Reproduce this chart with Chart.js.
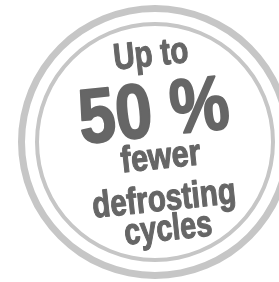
<!DOCTYPE html>
<html>
<head>
<meta charset="utf-8">
<script src="https://cdn.jsdelivr.net/npm/chart.js@4"></script>
<style>
  html, body { margin:0; padding:0; background:#fff; overflow:hidden; }
  #wrap { width:300px; height:282px; }
</style>
</head>
<body>
<div id="wrap"><canvas id="badge" width="300" height="282"></canvas></div>
<script>
// badge data
const ringNames  = ['outer ring', 'gap', 'inner ring'];
const ringValues = [100, 100, 100];
const badgeLines = ['Up to', '50 %', 'fewer', 'defrosting', 'cycles'];

// layout / style (kept apart from the data)
const RING_WEIGHTS = [7, 10, 4];
const RING_COLORS  = ['#c6c6c6', 'rgba(0,0,0,0)', '#c6c6c6'];
const TEXT_COLOR = '#666666';
const TEXT_ANGLE = -6;
const LINE_STYLE = [
  { size:37, x:5, y:-76, w:75 },
  { size:77, x:2, y:-6,  w:151 },
  { size:37, x:4, y:27,  w:80 },
  { size:37, x:3, y:69,  w:144 },
  { size:37, x:4, y:99,  w:88 }
];

const badgeText = {
  id:'badge-text',
  afterDraw(chart){
    const arc = chart.getDatasetMeta(0).data[0];
    if(!arc) return;
    const {ctx} = chart;
    ctx.save();
    ctx.translate(arc.x, arc.y);
    ctx.rotate(TEXT_ANGLE * Math.PI / 180);
    ctx.fillStyle = TEXT_COLOR;
    ctx.strokeStyle = TEXT_COLOR;
    ctx.lineJoin = 'round';
    ctx.textAlign = 'center';
    ctx.textBaseline = 'alphabetic';
    badgeLines.forEach((txt, i) => {
      const s = LINE_STYLE[i];
      ctx.font = `bold ${s.size}px "Liberation Sans", Arial, sans-serif`;
      const mw = ctx.measureText(txt).width || 1;
      ctx.save();
      ctx.translate(s.x, s.y);
      ctx.scale(s.w / mw, 1);
      ctx.lineWidth = s.size > 50 ? 2 : 1.2;
      ctx.fillText(txt, 0, 0);
      ctx.strokeText(txt, 0, 0);
      ctx.restore();
    });
    ctx.restore();
  }
};

new Chart(document.getElementById('badge'), {
  type:'doughnut',
  data:{
    labels:['badge'],
    datasets: ringNames.map((name, i) => ({
      label:name,
      data:[ringValues[i]],
      weight:RING_WEIGHTS[i],
      backgroundColor:RING_COLORS[i],
      borderWidth:0
    }))
  },
  options:{
    responsive:false,
    devicePixelRatio:1,
    animation:false,
    cutout:116,
    layout:{ padding:{ left:18, right:8, top:5, bottom:3 } },
    plugins:{ legend:{ display:false }, tooltip:{ enabled:false } }
  },
  plugins:[badgeText]
});
</script>
</body>
</html>
